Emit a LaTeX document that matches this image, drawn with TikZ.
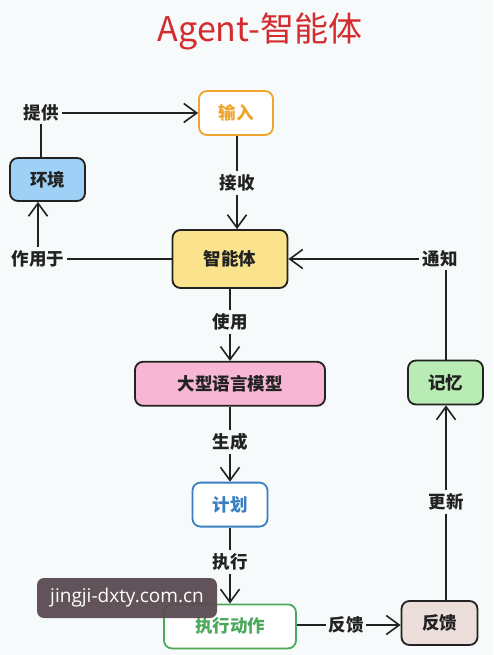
\documentclass[tikz,border=0pt]{standalone}
\usepackage{fontspec}
\setmainfont{Noto Sans CJK SC}
\newfontfamily\wmfont{Open Sans}
\usepackage{tikz}
\usetikzlibrary{positioning, arrows.meta}
\definecolor{bg}{HTML}{F7FAFA}
\definecolor{ink}{HTML}{222222}
\definecolor{titlered}{HTML}{D42B2E}
\definecolor{envfill}{HTML}{9FD0F6}
\definecolor{inputline}{HTML}{EFA42C}
\definecolor{agentfill}{HTML}{FAE38C}
\definecolor{llmfill}{HTML}{F7B7D4}
\definecolor{memfill}{HTML}{B9EBB4}
\definecolor{planline}{HTML}{3A7FC0}
\definecolor{actline}{HTML}{4CA85C}
\definecolor{fbfill}{HTML}{EADDDA}
\definecolor{wmgray}{HTML}{5A4B53}
\tikzset{
>={Straight Barb[length=13pt,width=19pt,line width=1.6pt]}, % open chevron heads
every node/.style={font=\bfseries\fontsize{17.5}{20}\selectfont}, % size of all texts
box/.style={draw=ink, line width=1.8pt, rounded corners=8pt, minimum height=44pt, text=ink}, % the boxes
lbl/.style={fill=bg, inner sep=3pt, text=ink}, % texts sitting on the connectors
link/.style={draw=ink, line width=1.8pt}, % the connectors
}

\begin{document}
\begin{tikzpicture}[x=1pt, y=-1pt]
        \fill[bg] (0,0) rectangle (493,655);
        \useasboundingbox (0,0) rectangle (493,655);

        \node[text=titlered, font=\fontsize{34}{38}\selectfont] (title) at (260,31) {Agent-智能体};

        \node[box, fill=agentfill, minimum width=115pt, minimum height=58pt] (agent) at (230,259) {智能体};
        \node[box, fill=llmfill, minimum width=190pt, below=72pt of agent] (llm) {大型语言模型};
        \node[box, fill=white, draw=planline, text=planline, minimum width=75pt, below=75pt of llm] (plan) {计划};
        \node[box, fill=white, draw=actline, text=actline, minimum width=132pt, below=76pt of plan] (act) {执行动作};
        \node[box, fill=white, draw=inputline, text=inputline, minimum width=74pt] (input) at (236,113) {输入};
        \node[box, fill=envfill, minimum width=75pt, minimum height=43pt] (env) at (47.5,179.5) {环境};
        \node[box, fill=memfill, minimum width=75pt] (memory) at (445.5,382.5) {记忆};
        \node[box, fill=fbfill, minimum width=76pt] (feedback) at (439.5,623) {反馈};

        \node[lbl] (provide) at (41,113) {提供};
        \node[lbl] (recv) at (237,183) {接收};
        \node[lbl] (acton) at (38,259) {作用于};
        \node[lbl] (use) at (230,322) {使用};
        \node[lbl] (gen) at (230,442) {生成};
        \node[lbl] (exec) at (230,562) {执行};
        \node[lbl, inner sep=2pt] (fb) at (346,625) {反馈};
        \node[lbl] (upd) at (446,502) {更新};
        \node[lbl] (notify) at (440,259) {通知};

        \draw[link] (env.north -| provide) -- (provide);
        \draw[link, ->] (provide) -- (input);
        \draw[link] (input.south -| recv) -- (recv);
        \draw[link, ->] (recv) -- (recv |- agent.north);
        \draw[link] (agent.west |- acton) -- (acton);
        \draw[link, ->] (acton) -- (acton |- env.south);
        \draw[link] (agent) -- (use);
        \draw[link, ->] (use) -- (llm);
        \draw[link] (llm) -- (gen);
        \draw[link, ->] (gen) -- (plan);
        \draw[link] (plan) -- (exec);
        \draw[link, ->] (exec) -- (act);
        \draw[link] (act.east |- fb) -- (fb);
        \draw[link, ->] (fb) -- (feedback.west |- fb);
        \draw[link] (feedback.north -| upd) -- (upd);
        \draw[link, ->] (upd) -- (upd |- memory.south);
        \draw[link] (memory.north -| upd) -- (notify.south -| upd);
        \draw[link, ->] (notify) -- (agent.east |- notify);

        % watermark
        \node[fill=wmgray, fill opacity=0.95, text opacity=1, text=white, rounded corners=7pt, minimum width=180pt, minimum height=40pt, font=\wmfont\fontsize{19}{22}\selectfont] (mark) at (127,598) {jingji-dxty.com.cn};
\end{tikzpicture}
\end{document}
